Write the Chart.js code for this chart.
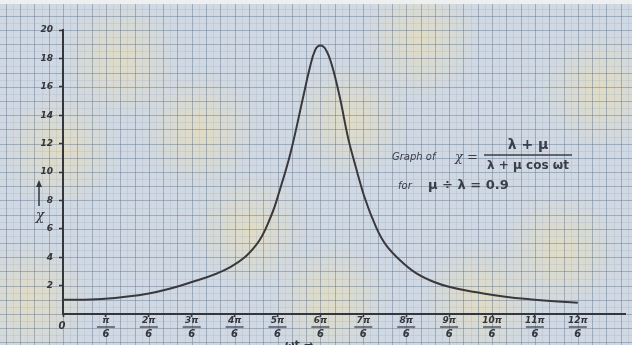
<!DOCTYPE html>
<html lang="en">
<head>
<meta charset="UTF-8">
<title>Graph of χ</title>
<script src="https://cdn.jsdelivr.net/npm/chart.js"></script>
<style>
  html, body { margin: 0; padding: 0; background: #d3dae0; }
  #wrap { width: 632px; height: 345px; }
</style>
</head>
<body>
<div id="wrap"><canvas id="chart" width="632" height="345"></canvas></div>
<script>
// ωt in units of π/6
const omegaT = [0, 0.9, 2, 2.9, 3.9, 4.5, 4.85, 5.05, 5.3, 5.6, 5.75, 5.88, 6, 6.13, 6.27, 6.45, 6.72, 7.3, 7.85, 8.65, 9.8, 11, 12];
const chi    = [1.0, 1.06, 1.45, 2.15, 3.3, 4.85, 6.9, 8.7, 11.3, 15.3, 17.3, 18.6, 18.9, 18.6, 17.5, 15.3, 11.5, 6.1, 3.8, 2.25, 1.45, 1.0, 0.8];
const xTickNumerators = ['0', 'π', '2π', '3π', '4π', '5π', '6π', '7π', '8π', '9π', '10π', '11π', '12π'];
const xTickDenominator = '6';
const yTicks = [2, 4, 6, 8, 10, 12, 14, 16, 18, 20];

const ink = '#34363d';

// graph paper behind everything
const paper = {
  id: 'paper',
  beforeDraw(chart) {
    const { ctx, scales: { x, y } } = chart;
    const W = chart.width, H = chart.height;
    ctx.save();
    ctx.fillStyle = '#cfd8e3';
    ctx.fillRect(0, 0, W, H);
    // soft yellow blotches on the scan
    const spots = [[120, 60], [420, 40], [560, 250], [250, 230], [480, 300], [60, 150], [350, 120], [200, 130], [600, 90], [30, 300], [330, 300]];
    spots.forEach(([sx, sy]) => {
      const g = ctx.createRadialGradient(sx, sy, 0, sx, sy, 60);
      g.addColorStop(0, 'rgba(236,222,175,0.6)');
      g.addColorStop(1, 'rgba(236,222,175,0)');
      ctx.fillStyle = g;
      ctx.fillRect(sx - 60, sy - 60, 120, 120);
    });
    const x0 = x.getPixelForValue(0), dx = (x.getPixelForValue(1) - x0) / 3;
    const y0 = y.getPixelForValue(0), dy = y.getPixelForValue(1) - y0;
    const lines = (stepX, stepY, color) => {
      ctx.strokeStyle = color;
      ctx.lineWidth = 1;
      ctx.beginPath();
      for (let px = x0 - Math.ceil(x0 / stepX) * stepX; px <= W; px += stepX) {
        ctx.moveTo(Math.round(px) + 0.5, 4);
        ctx.lineTo(Math.round(px) + 0.5, H);
      }
      for (let py = y0 - Math.ceil(y0 / -stepY) * -stepY; py <= H; py -= stepY) {
        ctx.moveTo(0, Math.round(py) + 0.5);
        ctx.lineTo(W, Math.round(py) + 0.5);
      }
      ctx.stroke();
    };
    lines(dx / 2, dy / 2, 'rgba(140,155,175,0.18)');
    lines(dx, dy, 'rgba(100,115,135,0.38)');
    // paper edge at the top
    ctx.fillStyle = '#eef0f0';
    ctx.fillRect(0, 0, W, 4);
    ctx.restore();
  },
  afterDraw(chart) {
    const { ctx, scales: { x, y } } = chart;
    ctx.save();
    ctx.fillStyle = ink;
    ctx.strokeStyle = ink;
    ctx.textAlign = 'center';
    ctx.textBaseline = 'middle';
    // x tick fractions
    xTickNumerators.forEach((num, i) => {
      const px = x.getPixelForValue(i);
      if (i === 0) {
        ctx.font = 'italic bold 10px "DejaVu Sans"';
        ctx.fillText(num, px - 1, 326);
        return;
      }
      ctx.font = 'italic bold 9px "DejaVu Sans"';
      ctx.fillText(num, px, 321);
      ctx.lineWidth = 1.2;
      ctx.beginPath();
      ctx.moveTo(px - 9, 327);
      ctx.lineTo(px + 9, 327);
      ctx.stroke();
      ctx.font = 'italic bold 10px "DejaVu Sans"';
      ctx.fillText(xTickDenominator, px, 334);
    });
    // ωt under the axis, cut by the edge
    ctx.font = 'bold 11px "DejaVu Sans"';
    ctx.textBaseline = 'top';
    ctx.fillText('ωt →', x.getPixelForValue(5.5), 340);
    // χ axis label with arrow
    ctx.lineWidth = 1.5;
    ctx.beginPath();
    ctx.moveTo(39, 206);
    ctx.lineTo(39, 183);
    ctx.stroke();
    ctx.beginPath();
    ctx.moveTo(39, 180);
    ctx.lineTo(36, 187);
    ctx.lineTo(42, 187);
    ctx.closePath();
    ctx.fill();
    ctx.textBaseline = 'middle';
    ctx.font = 'italic 14px "DejaVu Serif"';
    ctx.fillText('χ', 40, 216);
    // formula note
    ctx.textAlign = 'left';
    ctx.fillStyle = '#3a3e48';
    ctx.font = 'italic 10px "DejaVu Sans"';
    ctx.fillText('Graph of', 392, 157);
    ctx.font = 'italic 13px "DejaVu Serif"';
    ctx.fillText('χ =', 455, 158);
    ctx.textAlign = 'center';
    ctx.font = 'bold 14px "DejaVu Sans"';
    ctx.fillText('λ + μ', 528, 145);
    ctx.lineWidth = 1.5;
    ctx.strokeStyle = '#3a3e48';
    ctx.beginPath();
    ctx.moveTo(484, 155);
    ctx.lineTo(572, 155);
    ctx.stroke();
    ctx.font = 'bold 12px "DejaVu Sans"';
    ctx.fillText('λ + μ cos ωt', 528, 166);
    ctx.textAlign = 'left';
    ctx.font = 'italic 10px "DejaVu Sans"';
    ctx.fillText('for', 398, 186);
    ctx.font = 'bold 13px "DejaVu Sans"';
    ctx.fillText('μ ÷ λ = 0.9', 428, 186);
    ctx.restore();
  }
};

new Chart(document.getElementById('chart'), {
  type: 'line',
  data: {
    datasets: [{
      data: omegaT.map((v, i) => ({ x: v, y: chi[i] })),
      borderColor: '#3a383c',
      borderWidth: 2,
      pointRadius: 0,
      tension: 0.4,
      fill: false
    }]
  },
  options: {
    responsive: false,
    animation: false,
    layout: { padding: { top: 30, right: 7, left: 0, bottom: 0 } },
    plugins: { legend: { display: false }, tooltip: { enabled: false } },
    scales: {
      x: {
        type: 'linear',
        min: 0,
        max: 13.1,
        afterBuildTicks: s => { s.ticks = xTickNumerators.map((_, i) => ({ value: i })); },
        afterFit: s => { s.height = 31; },
        ticks: { display: false },
        grid: { drawOnChartArea: false, drawTicks: true, tickLength: 3, tickColor: ink, tickWidth: 1.5 },
        border: { color: ink, width: 2 }
      },
      y: {
        min: 0,
        max: 20,
        afterBuildTicks: s => { s.ticks = yTicks.map(v => ({ value: v })); },
        afterFit: s => { s.width = 63; },
        ticks: {
          color: ink,
          padding: 6,
          font: { family: 'DejaVu Sans', size: 9, style: 'italic', weight: 'bold' }
        },
        grid: { drawOnChartArea: false, drawTicks: true, tickLength: 4, tickColor: ink, tickWidth: 1.5 },
        border: { color: ink, width: 2 }
      }
    }
  },
  plugins: [paper]
});
</script>
</body>
</html>
